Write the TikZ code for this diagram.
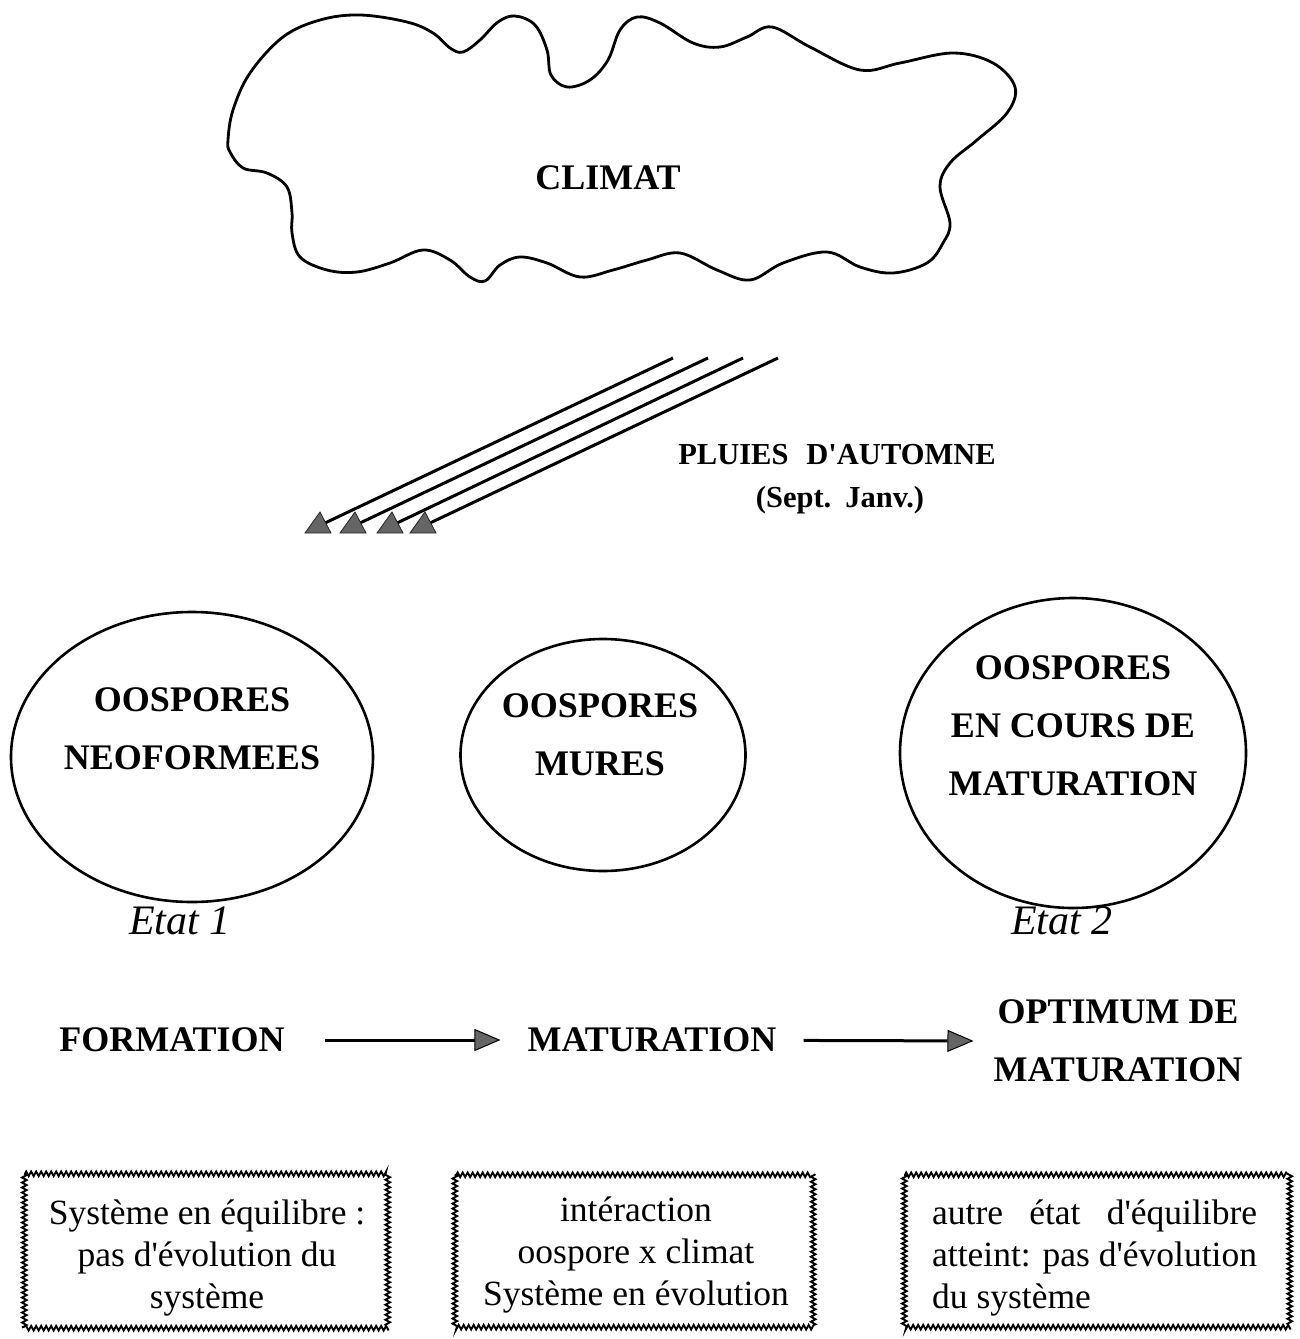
\documentclass[tikz,border=0pt]{standalone}
\usepackage{fontspec}
\setmainfont{Liberation Serif}
\usetikzlibrary{shapes.geometric,arrows.meta,decorations.pathmorphing}
\definecolor{headgray}{HTML}{656565}
\begin{document}
\begin{tikzpicture}[x=1pt,y=-1pt,
  big/.style={font=\fontsize{36}{58}\selectfont\bfseries, inner sep=0pt, align=center},
  rainlbl/.style={font=\fontsize{30.5}{40}\selectfont\bfseries, inner sep=0pt},
  etat/.style={font=\fontsize{42}{48}\selectfont\itshape, inner sep=0pt},
  oval/.style={draw, line width=2.6pt, ellipse, inner sep=0pt},
  flow/.style={line width=3pt, -{Triangle[length=26pt,width=22pt,fill=headgray,line width=1pt]}},
  rain/.style={line width=3pt},
  rainhead/.style={fill=headgray, draw=black!85, line width=0.8pt},
  rope/.style={line width=1.9pt, decorate, decoration={zigzag, segment length=5pt, amplitude=2.3pt}},
  boxtext/.style={font=\fontsize{35.5}{42}\selectfont, align=center, inner sep=0pt},
  frame/.style={inner sep=0pt},
]
\useasboundingbox (0,0) rectangle (1300,1339);

% cloud
\draw[line width=2.8pt] plot[smooth cycle, tension=0.6] coordinates {
(228,140) (233,110) (250,73) (283,37) (320,20) (360,15) (407,22) (433,33) (450,48) (463,52) (480,40) (498,22) (515,16) (535,25) (547,50) (551,75) (567,87) (590,80) (608,60) (620,30) (637,17) (660,23) (693,43) (720,47) (747,37) (772,27) (810,47) (860,70) (900,63) (953,53) (993,63) (1015,87) (1007,113) (977,140) (950,163) (940,187) (950,223) (943,243) (927,263) (893,273) (860,267) (827,252) (783,263) (750,280) (717,270) (680,253) (647,260) (613,270) (580,277) (547,263) (520,257) (500,265) (485,281) (470,277) (450,260) (423,250) (390,263) (357,272) (327,270) (300,257) (292,233) (292,213) (287,187) (267,173) (243,168) (230,152)};
\node[big] (climat) at (608,178) {CLIMAT};

% rain arrows
\foreach \i/\sx/\hx in {1/673/305, 2/708/340, 3/743/377, 4/778/410}{
  \coordinate (rs\i) at (\sx,358);
  \coordinate (re\i) at (\hx+20,523);
  \draw[rain] (rs\i) -- (re\i);
  \draw[rainhead] (\hx,533) -- (\hx+26,533) -- (\hx+15,512) -- cycle;
}
\node[rainlbl] (pluies) at (837,455) {PLUIES\hspace{18pt}D\textquotesingle AUTOMNE};
\node[rainlbl] (sept) at (840,500) {(Sept.\hspace{14pt}Janv.)};

% ellipses
\node[oval, minimum width=362pt, minimum height=290pt] (e1) at (192,757) {};
\node[big] (e1t) at (192,729) {OOSPORES\\NEOFORMEES};
\node[oval, minimum width=285pt, minimum height=232pt] (e2) at (603,755) {};
\node[big] (e2t) at (600,735) {OOSPORES\\MURES};
\node[oval, minimum width=346pt, minimum height=310pt] (e3) at (1073,753) {};
\node[big] (e3t) at (1073,726) {OOSPORES\\EN COURS DE\\MATURATION};

\node[etat] (etat1) at (180,921) {Etat 1};
\node[etat] (etat2) at (1062,921) {Etat 2};

% process row
\node[big] (form) at (172,1040) {FORMATION};
\node[big] (mat) at (652,1040) {MATURATION};
\node[big] (opt) at (1118,1041) {OPTIMUM DE\\MATURATION};
\draw[flow, shorten <=40pt, shorten >=27pt] (form) -- (mat);
\draw[flow, shorten <=27pt, shorten >=20pt] (mat) -- (opt.west);

% boxes
\node[frame, minimum width=363pt, minimum height=154pt] (b1) at (206,1251) {};
\draw[rope] (b1.north west) rectangle (b1.south east);
\node[boxtext] (b1t) at (207,1258) {Système en équilibre :\\pas d\textquotesingle évolution du\\système};

\node[frame, minimum width=358pt, minimum height=152pt] (b2) at (634,1251) {};
\draw[rope] (b2.north west) rectangle (b2.south east);
\node[boxtext] (b2t) at (636,1255) {intéraction\\oospore x climat\\Système en évolution};

\node[frame, minimum width=385pt, minimum height=152pt] (b3) at (1097,1251) {};
\draw[rope] (b3.north west) rectangle (b3.south east);
\node[boxtext, anchor=west, align=left] (b3t) at (932,1258) {\setbox0=\hbox{atteint: pas d\textquotesingle évolution}\begin{minipage}{\wd0}\makebox[\wd0][s]{autre état d\textquotesingle équilibre}\\atteint: pas d\textquotesingle évolution\\du système\end{minipage}};
\end{tikzpicture}
\end{document}
